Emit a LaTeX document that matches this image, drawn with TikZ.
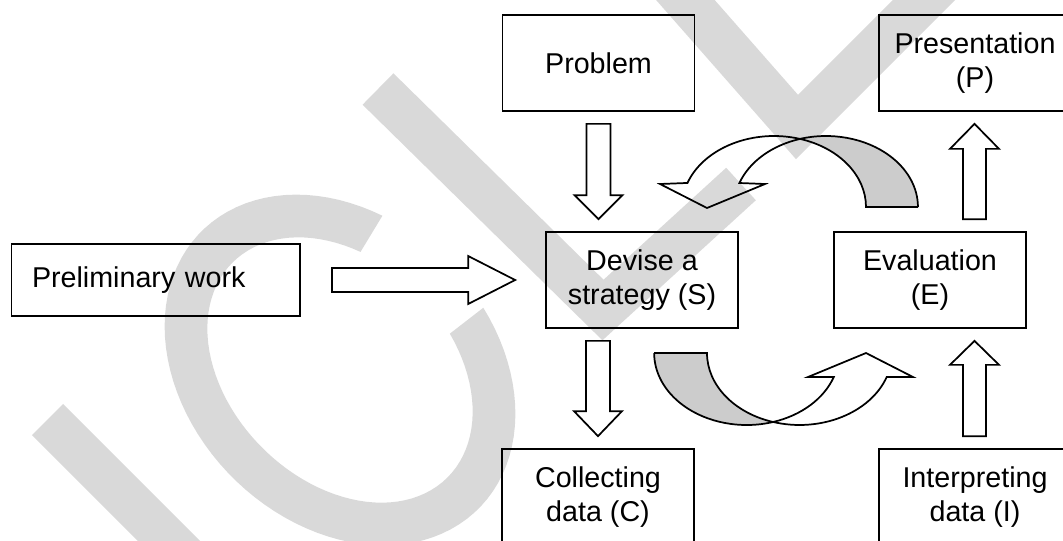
\documentclass[tikz,border=0pt]{standalone}
\usepackage{fontspec}
\setmainfont{Liberation Sans}
\usetikzlibrary{calc}
\definecolor{wmgray}{HTML}{D9D9D9}
\definecolor{backgray}{HTML}{CCCCCC}
\begin{document}
\begin{tikzpicture}[x=0.75pt,y=-0.75pt,
  box/.style={draw=black, line width=1.3pt, rectangle, inner sep=0pt,
    minimum width=144pt, minimum height=72pt, align=center,
    font=\fontsize{21.5}{25.5}\selectfont},
  blockarrow/.style={draw=black, line width=1.3pt, line join=miter},
  curveback/.style={draw=black, fill=backgray, line width=1.3pt},
  curvefront/.style={draw=black, line width=1.3pt},
  wmband/.style={draw=wmgray, line width=33pt, line cap=butt, line join=miter}]
\path[use as bounding box, clip] (0,0) rectangle (1063,540);

% watermark
\draw[wmband] (47.5,419.5) -- (230,602);
\draw[wmband] (378,89) -- (603,310) -- (741,184);
\draw[wmband] (659,-30) -- (797,127) -- (954,-30);
\fill[wmgray] plot[domain=113.8:433, samples=90, variable=\t]
  ({340+0.7071*(196*cos(\t)+152*sin(\t))},{370+0.7071*(196*cos(\t)-152*sin(\t))})
  -- plot[domain=430:117, samples=90, variable=\t]
  ({340+0.7071*(152*cos(\t)+110*sin(\t))},{370+0.7071*(152*cos(\t)-110*sin(\t))})
  -- cycle;

% boxes
\node[box] (prob) at (598.5,63) {Problem};
\node[box] (pres) at (975,63) {Presentation\\(P)};
\node[box, minimum width=216.4pt, minimum height=54pt, text width=185.6pt, align=left] (prel) at (155.75,280) {Preliminary work};
\node[box] (dev) at (642,280) {Devise a\\strategy (S)};
\node[box] (eval) at (930,280) {Evaluation\\(E)};
\node[box] (coll) at (598,497) {Collecting\\data (C)};
\node[box] (interp) at (975,497) {Interpreting\\data (I)};

% block arrows
\coordinate (s1) at ($(prob.south)+(0,12)$);
\coordinate (t1) at ($(prob.south |- dev.north)+(0,-12)$);
\draw[blockarrow] ($(s1)+(-12,0)$) -- ($(s1)+(12,0)$) -- ($(t1)+(12,-24)$) -- ($(t1)+(24,-24)$) -- (t1) -- ($(t1)+(-24,-24)$) -- ($(t1)+(-12,-24)$) -- cycle;

\coordinate (s2) at ($(coll.north |- dev.south)+(0,12)$);
\coordinate (t2) at ($(coll.north)+(0,-12)$);
\draw[blockarrow] ($(s2)+(-12,0)$) -- ($(s2)+(12,0)$) -- ($(t2)+(12,-25)$) -- ($(t2)+(24,-25)$) -- (t2) -- ($(t2)+(-24,-25)$) -- ($(t2)+(-12,-25)$) -- cycle;

\coordinate (s3) at ($(pres.south |- eval.north)+(-0.5,-12)$);
\coordinate (t3) at ($(pres.south)+(-0.5,12)$);
\draw[blockarrow] ($(s3)+(-11.5,0)$) -- ($(s3)+(11.5,0)$) -- ($(t3)+(11.5,25)$) -- ($(t3)+(24.5,25)$) -- (t3) -- ($(t3)+(-24.5,25)$) -- ($(t3)+(-11.5,25)$) -- cycle;

\coordinate (s4) at ($(interp.north)+(-0.5,-12)$);
\coordinate (t4) at ($(interp.north |- eval.south)+(-0.5,12)$);
\draw[blockarrow] ($(s4)+(-11.5,0)$) -- ($(s4)+(11.5,0)$) -- ($(t4)+(11.5,24)$) -- ($(t4)+(24.5,24)$) -- (t4) -- ($(t4)+(-24.5,24)$) -- ($(t4)+(-11.5,24)$) -- cycle;

\coordinate (s5) at ($(prel.east)+(31,0)$);
\coordinate (t5) at ($(dev.west)+(-30,0)$);
\draw[blockarrow] ($(s5)+(0,-12)$) -- ($(t5)+(-47,-12)$) -- ($(t5)+(-47,-24)$) -- (t5) -- ($(t5)+(-47,24)$) -- ($(t5)+(-47,12)$) -- ($(s5)+(0,12)$) -- cycle;

% curved arrow: Evaluation back to strategy (top)
\draw[curveback] (918,207) -- (866,207)
  arc[start angle=0, end angle=-73.6, x radius=92, y radius=71]
  arc[start angle=-106.4, end angle=0, x radius=92, y radius=71] -- cycle;
\draw[curvefront] (800,138.9)
  arc[start angle=-73.6, end angle=-160.2, x radius=92, y radius=71]
  -- (660,184) -- (707,208) -- (765,184) -- (739.4,183)
  arc[start angle=-160.2, end angle=-106.4, x radius=92, y radius=71] -- cycle;

% curved arrow: strategy to Evaluation (bottom)
\draw[curveback] (654,353) -- (707,353)
  arc[start angle=180, end angle=106.6, x radius=92.5, y radius=72]
  arc[start angle=73.4, end angle=180, x radius=92.5, y radius=72] -- cycle;
\draw[curvefront] (773,422)
  arc[start angle=73.4, end angle=19.5, x radius=92.5, y radius=72]
  -- (808,377) -- (866,353) -- (913,377) -- (886.7,377)
  arc[start angle=19.5, end angle=106.6, x radius=92.5, y radius=72] -- cycle;
\end{tikzpicture}
\end{document}
